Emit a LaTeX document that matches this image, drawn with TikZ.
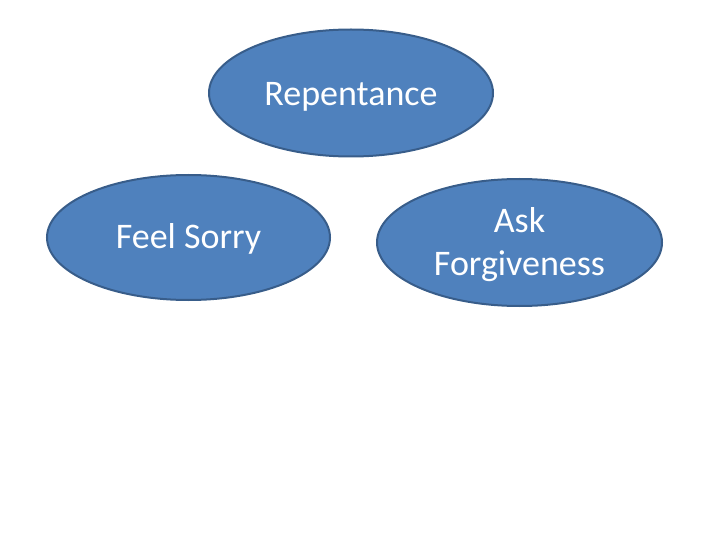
\documentclass[tikz,border=0pt]{standalone}
\usepackage{fontspec}
\setmainfont{Carlito}
\usetikzlibrary{shapes.geometric}
\definecolor{ovfill}{HTML}{4F81BD}
\definecolor{ovline}{HTML}{385D8A}
\newcommand{\lowerby}[2]{\raisebox{-#1}[\height][\depth]{#2}}
\tikzset{oval/.style={ellipse, draw=ovline, fill=ovfill, line width=2pt, inner sep=0pt, text=white, align=center, font=\fontsize{36}{43}\selectfont}}
\begin{document}
\begin{tikzpicture}[x=1pt,y=-1pt]
\useasboundingbox (0,0) rectangle (720,540);
\node[oval, minimum width=284pt, minimum height=127pt] (rep) at (351,93) {\lowerby{3.5pt}{Repentance}};
\node[oval, minimum width=283pt, minimum height=125pt] (feel) at (188.5,237.5) {\lowerby{1pt}{Feel Sorry}};
\node[oval, minimum width=285pt, minimum height=127pt] (ask) at (519.5,242.5) {\lowerby{3pt}{\begin{tabular}{@{}c@{}}Ask\\Forgiveness\end{tabular}}};
\end{tikzpicture}
\end{document}
